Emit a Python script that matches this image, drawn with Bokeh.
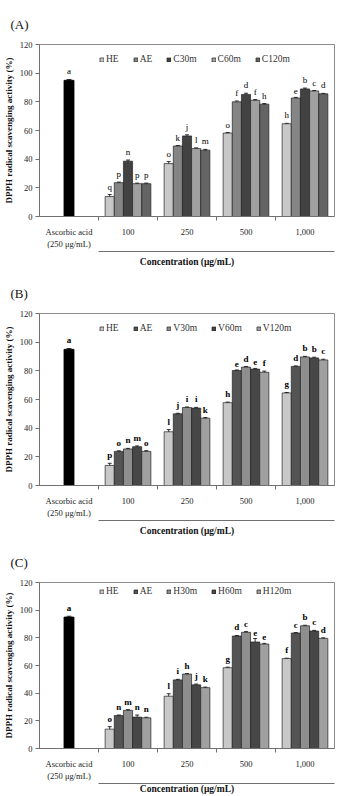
from bokeh.plotting import figure
from bokeh.models import (Range1d, FixedTicker, Legend, LegendItem, LinearAxis, Title,
                          Whisker, TeeHead, ColumnDataSource)
from bokeh.layouts import column
from bokeh.core.properties import value
from bokeh.embed import file_html
from bokeh.resources import INLINE

FONT = "Liberation Serif"

# x-axis categories: reference compound + four extract concentrations
categories = ["Ascorbic acid\n(250 μg/mL)", "100", "250", "500", "1,000"]
concentrations = ["100", "250", "500", "1,000"]

ascorbic_value = 95.0
ascorbic_error = 0.6
ascorbic_letter = "a"

# ---- Panel (A) ----
a_series = ["HE", "AE", "C30m", "C60m", "C120m"]
a_he = [13.9, 36.9, 58.2, 64.7]
a_ae = [23.6, 49.2, 80.0, 82.7]
a_c30 = [38.6, 56.2, 85.2, 89.0]
a_c60 = [22.9, 47.4, 81.1, 87.6]
a_c120 = [22.9, 46.3, 78.4, 85.6]
a_he_err = [1.4, 1.4, 0.4, 0.3]
a_ae_err = [0.4, 0.3, 0.6, 0.4]
a_c30_err = [0.8, 0.8, 0.8, 0.6]
a_c60_err = [0.4, 0.5, 0.5, 0.3]
a_c120_err = [0.4, 0.5, 0.4, 0.3]
a_he_let = ["q", "o", "o", "h"]
a_ae_let = ["p", "k", "f", "e"]
a_c30_let = ["n", "j", "d", "b"]
a_c60_let = ["p", "l", "f", "c"]
a_c120_let = ["p", "m", "h", "d"]
a_colors = ["#c8c8c8", "#858585", "#424242", "#a0a0a0", "#646464"]

# ---- Panel (B) ----
b_series = ["HE", "AE", "V30m", "V60m", "V120m"]
b_he = [14.0, 37.5, 57.8, 64.6]
b_ae = [23.8, 50.0, 80.2, 83.1]
b_v30 = [25.5, 54.4, 82.6, 89.7]
b_v60 = [27.1, 54.0, 81.2, 89.0]
b_v120 = [23.8, 47.0, 79.0, 87.6]
b_he_err = [1.5, 1.5, 0.4, 0.3]
b_ae_err = [0.4, 0.4, 0.4, 0.3]
b_v30_err = [0.4, 0.4, 0.4, 0.4]
b_v60_err = [0.5, 0.5, 0.5, 0.5]
b_v120_err = [0.5, 0.4, 0.8, 0.5]
b_he_let = ["p", "l", "h", "g"]
b_ae_let = ["o", "j", "e", "d"]
b_v30_let = ["n", "i", "d", "b"]
b_v60_let = ["m", "i", "e", "b"]
b_v120_let = ["o", "k", "f", "c"]
b_colors = ["#c8c8c8", "#545454", "#8e8e8e", "#474747", "#a0a0a0"]

# ---- Panel (C) ----
c_series = ["HE", "AE", "H30m", "H60m", "H120m"]
c_he = [14.0, 37.8, 58.4, 65.0]
c_ae = [23.8, 49.6, 81.3, 83.5]
c_h30 = [27.6, 53.8, 84.0, 88.7]
c_h60 = [22.7, 46.0, 77.0, 84.9]
c_h120 = [22.2, 44.0, 75.5, 79.6]
c_he_err = [1.8, 1.8, 0.4, 0.3]
c_ae_err = [0.4, 0.4, 0.4, 0.3]
c_h30_err = [0.5, 0.4, 0.5, 0.4]
c_h60_err = [1.5, 0.6, 2.5, 0.5]
c_h120_err = [0.4, 0.4, 0.5, 0.4]
c_he_let = ["o", "l", "g", "f"]
c_ae_let = ["n", "i", "d", "c"]
c_h30_let = ["m", "h", "c", "b"]
c_h60_let = ["n", "j", "e", "c"]
c_h120_let = ["n", "k", "e", "d"]
c_colors = ["#c8c8c8", "#545454", "#8e8e8e", "#474747", "#a0a0a0"]

y_ticks = [0, 20, 40, 60, 80, 100, 120]

BAR_W = 0.155
FRAME_H = 179
AXIS_GREY = "#707070"


def make_panel(tag, series, values, errors, letters, colors, height, bold_letters,
               title_standoff):
    bottom = height - 44 - FRAME_H
    p = figure(width=338, height=height, output_backend="svg", toolbar_location=None,
               x_range=Range1d(0, 5), y_range=Range1d(0, 120),
               min_border_left=37, min_border_right=4, min_border_top=44,
               min_border_bottom=bottom)
    p.background_fill_color = "white"
    p.border_fill_color = "white"
    p.outline_line_color = "#8c8c8c"
    p.outline_line_width = 1
    p.xgrid.visible = False
    p.ygrid.visible = False

    # y axis
    p.yaxis.ticker = FixedTicker(ticks=y_ticks)
    p.yaxis.minor_tick_line_color = None
    p.yaxis.major_tick_out = 4
    p.yaxis.major_tick_in = 0
    p.yaxis.major_label_standoff = 3
    p.yaxis.axis_line_color = AXIS_GREY
    p.yaxis.major_tick_line_color = AXIS_GREY
    p.yaxis.major_label_text_font = FONT
    p.yaxis.major_label_text_font_size = "8.5px"
    p.yaxis.major_label_text_color = "#222222"
    p.yaxis.axis_label = "DPPH radical scavenging activity (%)"
    p.yaxis.axis_label_text_font = FONT
    p.yaxis.axis_label_text_font_style = "bold"
    p.yaxis.axis_label_text_font_size = "9px"
    p.yaxis.axis_label_text_color = "#111111"
    p.yaxis.axis_label_standoff = 3

    # x axis: labels at category centres, tick marks on category boundaries
    centers = [i + 0.5 for i in range(len(categories))]
    p.xaxis.ticker = FixedTicker(ticks=centers, minor_ticks=[1, 2, 3, 4])
    p.xaxis.major_label_overrides = {c: lab for c, lab in zip(centers, categories)}
    p.xaxis.major_tick_line_color = None
    p.xaxis.major_tick_out = 0
    p.xaxis.major_tick_in = 0
    p.xaxis.minor_tick_out = 4
    p.xaxis.minor_tick_in = 0
    p.xaxis.minor_tick_line_color = AXIS_GREY
    p.xaxis.axis_line_color = AXIS_GREY
    p.xaxis.major_label_standoff = 6
    p.xaxis.major_label_text_font = FONT
    p.xaxis.major_label_text_font_size = "8.5px"
    p.xaxis.major_label_text_color = "#222222"

    # second axis: rule under the concentration groups with its title
    conc_axis = LinearAxis(bounds=(1, 5), ticker=FixedTicker(ticks=[]),
                           axis_label="Concentration (μg/mL)",
                           axis_line_color=AXIS_GREY,
                           major_tick_line_color=None, minor_tick_line_color=None,
                           major_tick_out=0, major_tick_in=0,
                           minor_tick_out=0, minor_tick_in=0,
                           major_label_standoff=0,
                           major_label_text_font_size="0px",
                           axis_label_standoff=title_standoff,
                           axis_label_text_font=FONT,
                           axis_label_text_font_size="9.5px",
                           axis_label_text_font_style="bold",
                           axis_label_text_color="#111111")
    p.add_layout(conc_axis, "below")

    letter_style = "bold" if bold_letters else "normal"

    # ascorbic acid reference bar
    asc = ColumnDataSource(dict(x=[0.5], top=[ascorbic_value],
                                up=[ascorbic_value + ascorbic_error],
                                lo=[ascorbic_value - ascorbic_error],
                                lab=[ascorbic_letter]))
    p.vbar(x="x", top="top", width=0.17, source=asc, fill_color="black",
           line_color="black", line_width=0.8)
    p.add_layout(Whisker(base="x", upper="up", lower="lo", source=asc,
                         line_width=0.8, line_color="black",
                         upper_head=TeeHead(size=5, line_width=0.8),
                         lower_head=TeeHead(size=5, line_width=0.8)))
    p.text(x="x", y="up", text="lab", source=asc, text_font=value(FONT),
           text_font_size="9px", text_font_style=letter_style,
           text_align="center", text_baseline="bottom", y_offset=-3,
           text_color="black")

    items = []
    n = len(series)
    for k in range(n):
        xs = [g + 1.5 + (k - (n - 1) / 2) * BAR_W for g in range(len(concentrations))]
        vals = values[k]
        errs = errors[k]
        src = ColumnDataSource(dict(
            x=xs, top=vals,
            up=[v + e for v, e in zip(vals, errs)],
            lo=[v - e for v, e in zip(vals, errs)],
            lab=letters[k]))
        r = p.vbar(x="x", top="top", width=BAR_W, source=src,
                   fill_color=colors[k], line_color="#222222", line_width=0.7)
        items.append(LegendItem(label=series[k], renderers=[r]))
        p.add_layout(Whisker(base="x", upper="up", lower="lo", source=src,
                             line_width=0.8, line_color="black",
                             upper_head=TeeHead(size=4, line_width=0.8),
                             lower_head=TeeHead(size=4, line_width=0.8)))
        p.text(x="x", y="up", text="lab", source=src, text_font=value(FONT),
               text_font_size="9px", text_font_style=letter_style,
               text_align="center", text_baseline="bottom", y_offset=-3,
               text_color="black")

    legend = Legend(items=items, orientation="horizontal",
                    location=(60, FRAME_H - 27), padding=0, margin=0,
                    spacing=14, label_standoff=2, label_width=0, label_height=0,
                    glyph_width=5, glyph_height=5,
                    label_text_font=FONT, label_text_font_size="9.5px",
                    label_text_color="#333333",
                    background_fill_alpha=0, border_line_color=None)
    p.add_layout(legend)

    # panel tag in the top-left corner
    p.add_layout(Title(text=tag, align="left", offset=-29, standoff=25,
                       text_font=FONT, text_font_size="13px",
                       text_font_style="normal", text_color="#111111"), "above")
    return p


pa = make_panel("(A)", a_series,
                [a_he, a_ae, a_c30, a_c60, a_c120],
                [a_he_err, a_ae_err, a_c30_err, a_c60_err, a_c120_err],
                [a_he_let, a_ae_let, a_c30_let, a_c60_let, a_c120_let],
                a_colors, 269, False, 5)
pb = make_panel("(B)", b_series,
                [b_he, b_ae, b_v30, b_v60, b_v120],
                [b_he_err, b_ae_err, b_v30_err, b_v60_err, b_v120_err],
                [b_he_let, b_ae_let, b_v30_let, b_v60_let, b_v120_let],
                b_colors, 269, True, 5)
pc = make_panel("(C)", c_series,
                [c_he, c_ae, c_h30, c_h60, c_h120],
                [c_he_err, c_ae_err, c_h30_err, c_h60_err, c_h120_err],
                [c_he_let, c_ae_let, c_h30_let, c_h60_let, c_h120_let],
                c_colors, 258, True, 0)

layout = column(pa, pb, pc)
open("out.html", "w").write(file_html(layout, INLINE))
